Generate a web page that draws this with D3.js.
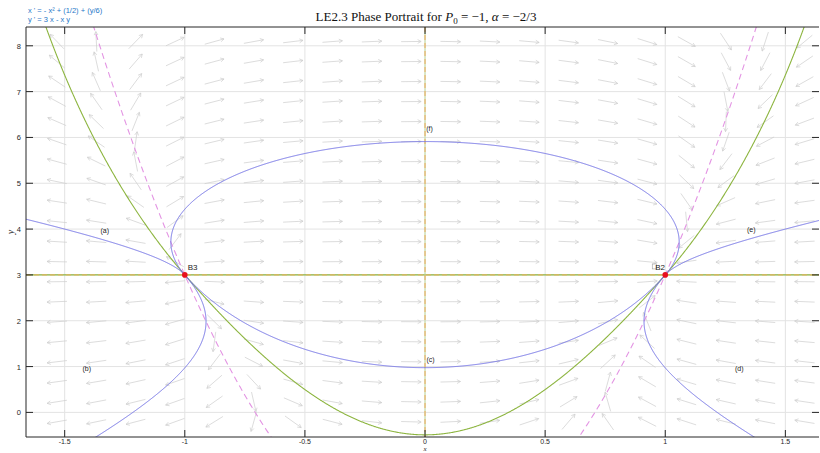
<!DOCTYPE html>
<html><head><meta charset="utf-8">
<script src="https://cdn.jsdelivr.net/npm/d3@7"></script>
<style>body{margin:0;background:#fff;overflow:hidden}</style>
</head><body><svg id="c" width="820" height="453"></svg>
<script>
// ---- data ----
const xDomain = [-1.661, 1.640];
const yDomain = [-0.537, 8.41];
const xTicks = [-1.5, -1, -0.5, 0, 0.5, 1, 1.5];
const xTickLabels = ["-1.5", "-1", "-0.5", "0", "0.5", "1", "1.5"];
const yTicks = [0, 1, 2, 3, 4, 5, 6, 7, 8];
const yTickLabels = ["0", "1", "2", "3", "4", "5", "6", "7", "8"];
// x' = a*x^2 + b + c*y ; y' = d*x + e*x*y
const xPrimeCoef = [-1, 0.5, 1 / 6];
const yPrimeCoef = [3, -1];
const equationLines = ["x ' = - x\u00B2 + (1/2) + (y/6)", "y ' = 3 x - x y"];
const equilibria = [{x: -1, y: 3, name: "B3"}, {x: 1, y: 3, name: "B2"}];
// trajectory seed points
const blueSeeds = [[-1.5, 4.0], [-1.37, -0.537], [0, 0.976], [1.37, -0.537], [1.5, 4.0], [0, 5.91]];
const greenSeeds = [[0, -0.49], [-1.578, 8.41], [1.578, 8.41]];
const curveLabels = [
  {t: "(a)", x: -1.333, y: 3.92}, {t: "(b)", x: -1.408, y: 0.90},
  {t: "(c)", x: 0.023, y: 1.10}, {t: "(d)", x: 1.308, y: 0.90},
  {t: "(e)", x: 1.358, y: 3.94}, {t: "(f)", x: 0.019, y: 6.14}
];
// direction-field grid
const fieldX = d3.range(20).map(i => -1.532 + i * 0.1638);
const fieldY = d3.range(20).map(i => -0.205 + i * 0.4367);

// ---- layout ----
const m = {l: 26, r: 819, t: 27, b: 437};
const svg = d3.select("#c");
const x = d3.scaleLinear().domain(xDomain).range([m.l, m.r]);
const y = d3.scaleLinear().domain(yDomain).range([m.b, m.t]);
const kx = (m.r - m.l) / (xDomain[1] - xDomain[0]);
const ky = (m.b - m.t) / (yDomain[1] - yDomain[0]);

svg.append("defs").append("clipPath").attr("id", "clip")
  .append("rect").attr("x", m.l).attr("y", m.t).attr("width", m.r - m.l).attr("height", m.b - m.t);

// grid
const grid = svg.append("g").attr("stroke", "#e3e3e3").attr("stroke-width", 1);
xTicks.forEach(v => grid.append("line").attr("x1", x(v)).attr("x2", x(v)).attr("y1", m.t).attr("y2", m.b));
yTicks.forEach(v => grid.append("line").attr("x1", m.l).attr("x2", m.r).attr("y1", y(v)).attr("y2", y(v)));

function field(px, py) {
  return [xPrimeCoef[0] * px * px + xPrimeCoef[1] + xPrimeCoef[2] * py,
          yPrimeCoef[0] * px + yPrimeCoef[1] * px * py];
}

// direction field arrows
const plot = svg.append("g").attr("clip-path", "url(#clip)");
const arrows = plot.append("g").attr("stroke", "#cdcdcd").attr("stroke-width", 0.7).attr("fill", "none");
const L = 20, HL = 4, yAspect = 0.35;
fieldX.forEach(fx => fieldY.forEach(fy => {
  const [a, b] = field(fx, fy);
  let ux = a * kx, uy = -b * ky * yAspect;
  const n = Math.hypot(ux, uy) || 1;
  ux /= n; uy /= n;
  const cx = x(fx), cy = y(fy);
  const x0 = cx - ux * L / 2, y0 = cy - uy * L / 2, x1 = cx + ux * L / 2, y1 = cy + uy * L / 2;
  const ang = Math.atan2(uy, ux);
  const h1 = [x1 - HL * Math.cos(ang - 0.5), y1 - HL * Math.sin(ang - 0.5)];
  const h2 = [x1 - HL * Math.cos(ang + 0.5), y1 - HL * Math.sin(ang + 0.5)];
  arrows.append("path").attr("d", `M${x0},${y0}L${x1},${y1}M${h1[0]},${h1[1]}L${x1},${y1}L${h2[0]},${h2[1]}`);
}));

// trajectories via the chart's ODE
function integrate(sx0, sy0, dir) {
  const pts = [];
  let px = sx0, py = sy0;
  const g = (u, v) => {
    const [a, b] = field(u, v);
    const n = Math.hypot(a * kx, b * ky) || 1e-12;
    return [dir * a / n, dir * b / n];
  };
  const h = 0.6;
  for (let i = 0; i < 8000; i++) {
    pts.push([px, py]);
    if (px < xDomain[0] - 0.05 || px > xDomain[1] + 0.05 || py < yDomain[0] - 0.2 || py > yDomain[1] + 0.2) break;
    let near = false;
    equilibria.forEach(e => { if (Math.hypot((px - e.x) * kx, (py - e.y) * ky) < 0.7) near = true; });
    if (near) break;
    const k1 = g(px, py);
    const k2 = g(px + h / 2 * k1[0], py + h / 2 * k1[1]);
    const k3 = g(px + h / 2 * k2[0], py + h / 2 * k2[1]);
    const k4 = g(px + h * k3[0], py + h * k3[1]);
    px += h / 6 * (k1[0] + 2 * k2[0] + 2 * k3[0] + k4[0]);
    py += h / 6 * (k1[1] + 2 * k2[1] + 2 * k3[1] + k4[1]);
  }
  return pts;
}
function traj(s) {
  const back = integrate(s[0], s[1], -1).reverse();
  const fwd = integrate(s[0], s[1], 1);
  return back.concat(fwd.slice(1));
}
const line = d3.line().x(d => x(d[0])).y(d => y(d[1]));

// green invariant line y=3 and green trajectories
const greenC = "#8db540";
plot.append("line").attr("x1", m.l).attr("x2", m.r).attr("y1", y(3)).attr("y2", y(3))
  .attr("stroke", greenC).attr("stroke-width", 1.2);
greenSeeds.forEach(s => plot.append("path").attr("d", line(traj(s)))
  .attr("fill", "none").attr("stroke", greenC).attr("stroke-width", 1.1));

// y-nullclines (x=0, y=3) orange dashed
plot.append("line").attr("x1", x(0)).attr("x2", x(0)).attr("y1", m.t).attr("y2", m.b)
  .attr("stroke", "#c4dc9c").attr("stroke-width", 1);
plot.append("line").attr("x1", x(0)).attr("x2", x(0)).attr("y1", m.t).attr("y2", m.b)
  .attr("stroke", "#efaa5c").attr("stroke-width", 1).attr("stroke-dasharray", "5,3");
plot.append("line").attr("x1", m.l).attr("x2", m.r).attr("y1", y(3)).attr("y2", y(3))
  .attr("stroke", "#e9b35e").attr("stroke-width", 1).attr("stroke-dasharray", "5,3");

// x-nullcline magenta dashed: a x^2 + b + c y = 0
const ncPts = d3.range(-1.7, 1.7001, 0.005).map(v => [v, -(xPrimeCoef[0] * v * v + xPrimeCoef[1]) / xPrimeCoef[2]]);
[ncPts.filter(p => p[0] < 0), ncPts.filter(p => p[0] > 0)].forEach(br =>
  plot.append("path").attr("d", line(br)).attr("fill", "none")
    .attr("stroke", "#e394e3").attr("stroke-width", 1.1).attr("stroke-dasharray", "6,4"));

// blue trajectories
blueSeeds.forEach(s => plot.append("path").attr("d", line(traj(s)))
  .attr("fill", "none").attr("stroke", "#7474e6").attr("stroke-width", 1));

// axes box
const ax = svg.append("g").attr("stroke", "#262626").attr("stroke-width", 1);
ax.append("line").attr("x1", m.l).attr("x2", m.l).attr("y1", m.t).attr("y2", m.b);
ax.append("line").attr("x1", m.l).attr("x2", m.r).attr("y1", m.b).attr("y2", m.b);
ax.append("line").attr("x1", m.l).attr("x2", m.r).attr("y1", m.t).attr("y2", m.t);
const TL = 7;
xTicks.forEach(v => {
  ax.append("line").attr("x1", x(v)).attr("x2", x(v)).attr("y1", m.b).attr("y2", m.b - TL);
  ax.append("line").attr("x1", x(v)).attr("x2", x(v)).attr("y1", m.t).attr("y2", m.t + TL);
});
yTicks.forEach(v => {
  ax.append("line").attr("x1", m.l).attr("x2", m.l + TL).attr("y1", y(v)).attr("y2", y(v));
  ax.append("line").attr("x1", m.r).attr("x2", m.r - TL).attr("y1", y(v)).attr("y2", y(v));
});
const lab = svg.append("g").attr("font-family", "Liberation Sans, Arial, sans-serif").attr("font-size", 7).attr("fill", "#262626");
xTicks.forEach((v, i) => lab.append("text").attr("x", x(v)).attr("y", m.b + 6.8).attr("text-anchor", "middle").text(xTickLabels[i]));
yTicks.forEach((v, i) => lab.append("text").attr("x", m.l - 5).attr("y", y(v) + 3).attr("text-anchor", "end").attr("font-size", 7.5).text(yTickLabels[i]));

// axis labels
svg.append("text").attr("x", x(0)).attr("y", 451.3).attr("text-anchor", "middle")
  .attr("font-family", "Liberation Serif, serif").attr("font-style", "italic").attr("font-size", 7).attr("fill", "#262626").text("x");
svg.append("text").attr("transform", `translate(14,${(m.t + m.b) / 2}) rotate(-90)`).attr("text-anchor", "middle")
  .attr("font-family", "Liberation Serif, serif").attr("font-style", "italic").attr("font-size", 10).attr("fill", "#262626").text("y");

// title
const title = svg.append("text").attr("x", 426).attr("y", 21).attr("text-anchor", "middle")
  .attr("font-family", "Liberation Serif, DejaVu Serif, serif").attr("font-size", 13).attr("fill", "#111");
title.append("tspan").text("LE2.3 Phase Portrait for ");
title.append("tspan").attr("font-style", "italic").text("P");
title.append("tspan").attr("font-size", 9).attr("dy", 3).text("0");
title.append("tspan").attr("dy", -3).text(" = \u22121, ");
title.append("tspan").attr("font-style", "italic").text("\u03B1");
title.append("tspan").text(" = \u22122/3");

// equation text
const eq = svg.append("g").attr("font-family", "Liberation Sans, Arial, sans-serif").attr("font-size", 7.5).attr("fill", "#1f78c8");
equationLines.forEach((t, i) => eq.append("text").attr("x", 28).attr("y", 13 + i * 9).text(t));

// curve labels
const cl = svg.append("g").attr("font-family", "Liberation Sans, Arial, sans-serif").attr("font-size", 7).attr("fill", "#222");
curveLabels.forEach(d => cl.append("text").attr("x", x(d.x)).attr("y", y(d.y)).attr("text-anchor", "middle").text(d.t));

// equilibria
equilibria.forEach(e => {
  svg.append("circle").attr("cx", x(e.x)).attr("cy", y(e.y)).attr("r", 2.8).attr("fill", "#e8101e");
});
svg.append("text").attr("x", x(-1) + 3).attr("y", y(3) - 5).attr("font-family", "Liberation Sans, Arial, sans-serif")
  .attr("font-size", 8).attr("fill", "#222").text(equilibria[0].name);
svg.append("rect").attr("x", x(1) - 13).attr("y", y(3) - 11).attr("width", 4).attr("height", 5).attr("fill", "none").attr("stroke", "#999").attr("stroke-width", 0.6);
svg.append("text").attr("x", x(1) - 10).attr("y", y(3) - 5).attr("font-family", "Liberation Sans, Arial, sans-serif")
  .attr("font-size", 8).attr("fill", "#222").text(equilibria[1].name);
</script></body></html>
